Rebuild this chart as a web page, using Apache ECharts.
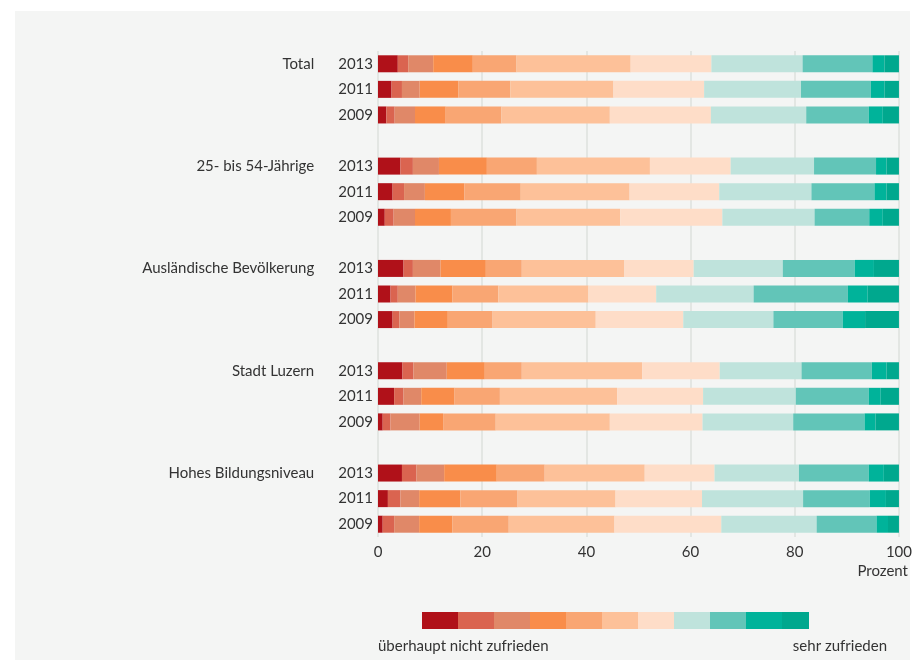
<!DOCTYPE html>
<html>
<head>
<meta charset="utf-8">
<style>
html,body{margin:0;padding:0;background:#ffffff;}
#chart{width:915px;height:662px;}
</style>
<script src="https://cdn.jsdelivr.net/npm/echarts@6/dist/echarts.min.js"></script>
</head>
<body>
<div id="chart"></div>
<script>
// Groups and years (top to bottom)
const groups = ['Total', '25- bis 54-Jährige', 'Ausländische Bevölkerung', 'Stadt Luzern', 'Hohes Bildungsniveau'];
const years = ['2013', '2011', '2009'];
// Satisfaction levels 0 (überhaupt nicht zufrieden) .. 10 (sehr zufrieden)
const levels = ['0', '1', '2', '3', '4', '5', '6', '7', '8', '9', '10'];
const colors = ['#B01119', '#DA6450', '#E08868', '#F98D4A', '#F9A673', '#FDC199', '#FEDDC8', '#BFE3DC', '#62C5B8', '#00B39A', '#00A88E'];

// Percent shares per level, rows: 2013, 2011, 2009
const totalRows = [
  [3.8, 2.0, 4.8, 7.6, 8.4, 21.9, 15.5, 17.5, 13.4, 2.3, 2.8],
  [2.6, 2.0, 3.4, 7.4, 10.0, 19.8, 17.4, 18.6, 13.4, 2.6, 2.8],
  [1.6, 1.6, 3.9, 5.9, 10.7, 20.8, 19.4, 18.3, 12.0, 2.7, 3.1]
];
const age2554Rows = [
  [4.3, 2.4, 5.0, 9.2, 9.6, 21.7, 15.5, 16.0, 11.9, 2.0, 2.4],
  [2.8, 2.2, 4.0, 7.6, 10.8, 20.9, 17.2, 17.7, 12.1, 2.3, 2.4],
  [1.3, 1.7, 4.1, 6.9, 12.6, 19.9, 19.6, 17.7, 10.5, 2.6, 3.1]
];
const auslRows = [
  [4.9, 1.8, 5.3, 8.7, 6.9, 19.7, 13.3, 17.1, 13.8, 3.7, 4.8],
  [2.4, 1.4, 3.4, 7.1, 8.8, 17.3, 13.0, 18.7, 18.1, 3.8, 6.0],
  [2.8, 1.3, 2.9, 6.4, 8.6, 19.8, 16.8, 17.3, 13.3, 4.3, 6.5]
];
const stadtRows = [
  [4.7, 2.1, 6.4, 7.3, 7.1, 23.1, 14.9, 15.7, 13.5, 2.8, 2.4],
  [3.1, 1.8, 3.4, 6.4, 8.7, 22.5, 16.5, 17.8, 14.0, 2.3, 3.5],
  [0.9, 1.5, 5.6, 4.5, 10.1, 21.9, 17.8, 17.4, 13.7, 2.1, 4.5]
];
const bildungRows = [
  [4.6, 2.8, 5.3, 10.1, 9.2, 19.2, 13.4, 16.2, 13.4, 2.9, 2.9],
  [1.9, 2.4, 3.6, 7.9, 11.0, 18.8, 16.6, 19.4, 12.8, 3.1, 2.5],
  [0.9, 2.2, 4.8, 6.4, 10.8, 20.3, 20.5, 18.3, 11.5, 2.2, 2.1]
];
const xTicks = [0, 20, 40, 60, 80, 100];

const groupRows = [totalRows, age2554Rows, auslRows, stadtRows, bildungRows];

// Build categories with gap slots between groups
const categories = [];
const rowsFlat = [];
groups.forEach((g, gi) => {
  years.forEach((y, yi) => {
    categories.push(gi + '|' + y);
    rowsFlat.push(groupRows[gi][yi]);
  });
  if (gi < groups.length - 1) {
    categories.push('gap' + gi);
    rowsFlat.push(null);
  }
});

const series = levels.map((lv, li) => ({
  name: lv,
  type: 'bar',
  stack: 'all',
  barWidth: 17,
  itemStyle: { color: colors[li] },
  emphasis: { disabled: true },
  data: rowsFlat.map(r => r ? r[li] : '-')
}));

const FONT = 'Lato';
const FS = 15;
const chart = echarts.init(document.getElementById('chart'));

const legendX0 = 422, legendW = 36, legendY = 612, legendH = 17;
const legendGraphics = colors.map((c, i) => ({
  type: 'rect',
  shape: { x: legendX0 + i * legendW, y: legendY, width: i === colors.length - 1 ? 27 : legendW, height: legendH },
  style: { fill: c },
  silent: true
}));

chart.setOption({
  backgroundColor: '#ffffff',
  animation: false,
  textStyle: { fontFamily: FONT },
  graphic: [
    { type: 'rect', z: -10, shape: { x: 15, y: 11, width: 895, height: 649 }, style: { fill: '#F4F5F4' }, silent: true },
    ...legendGraphics,
    { type: 'text', x: 908, y: 571, style: { text: 'Prozent', fill: '#333333', font: FS + 'px ' + FONT, align: 'right', verticalAlign: 'middle' } },
    { type: 'text', x: 378, y: 646, style: { text: 'überhaupt nicht zufrieden', fill: '#333333', font: FS + 'px ' + FONT, align: 'left', verticalAlign: 'middle' } },
    { type: 'text', x: 887, y: 646, style: { text: 'sehr zufrieden', fill: '#333333', font: FS + 'px ' + FONT, align: 'right', verticalAlign: 'middle' } }
  ],
  grid: { left: 378, right: 15.5, top: 51, height: 486, containLabel: false },
  xAxis: {
    type: 'value',
    min: xTicks[0],
    max: xTicks[xTicks.length - 1],
    interval: 20,
    axisLine: { show: false },
    axisTick: { show: false },
    splitLine: { show: true, lineStyle: { color: '#DEE0DE', width: 1.5 } },
    axisLabel: { color: '#333333', fontSize: FS, fontFamily: FONT, margin: 8 }
  },
  yAxis: {
    type: 'category',
    inverse: true,
    data: categories,
    axisLine: { show: false },
    axisTick: { show: false },
    splitLine: { show: false },
    axisLabel: {
      margin: 5,
      color: '#333333',
      fontSize: FS,
      fontFamily: FONT,
      formatter: function (v) {
        if (v.indexOf('gap') === 0) return '';
        const parts = v.split('|');
        const gi = +parts[0];
        const y = parts[1];
        if (y === years[0]) return '{g|' + groups[gi] + '}{y|' + y + '}';
        return '{y|' + y + '}';
      },
      rich: {
        g: { color: '#333333', fontSize: FS, fontFamily: FONT, padding: [0, 24, 0, 0] },
        y: { color: '#333333', fontSize: FS, fontFamily: FONT }
      }
    }
  },
  series: series
});
</script>
</body>
</html>
